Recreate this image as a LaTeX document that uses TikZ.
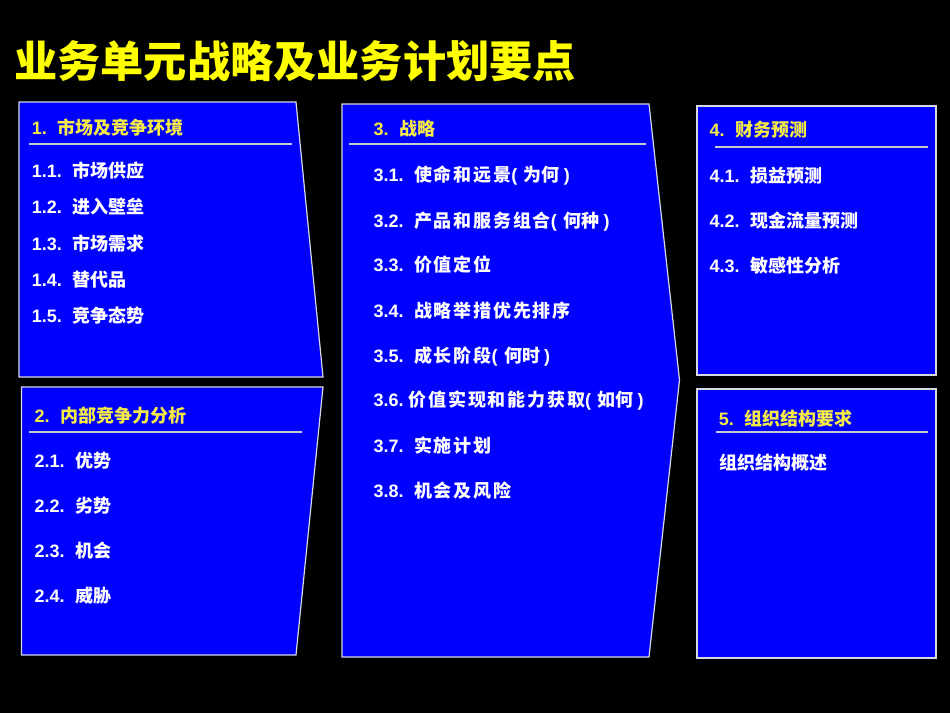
\documentclass[tikz,border=0pt]{standalone}
\usepackage{fontspec}
\setmainfont{Liberation Sans}
\newfontfamily\cjk{Noto Sans CJK SC}
\newfontfamily\cjkw{Noto Sans CJK SC}[LetterSpace=10]
\definecolor{slideblue}{RGB}{0,0,255}
\definecolor{titleyellow}{RGB}{255,255,0}
\definecolor{hdryellow}{RGB}{245,235,70}
\definecolor{edgegray}{RGB}{215,215,230}
\definecolor{rulegray}{RGB}{200,200,215}
\newcommand{\itm}[2]{\makebox[30.4pt][l]{#1}{\cjk #2}}
\newcommand{\itmw}[2]{\makebox[30.4pt][l]{#1}{\cjkw #2}}
\newcommand{\hdr}[2]{\makebox[19.3pt][l]{#1}{\cjk #2}}
\tikzset{
  panel/.style={fill=slideblue, draw=edgegray, line width=0.9pt},
  hrule/.style={draw=rulegray, line width=1.2pt},
  txt/.style={anchor=base west, inner sep=0pt, text=white, font=\fontsize{13.5}{16}\selectfont\bfseries},
  hd/.style={txt, text=hdryellow},
  ttl/.style={anchor=base west, inner sep=0pt, text=titleyellow, font=\cjk\bfseries\fontsize{32.4}{38}\selectfont}
}
\begin{document}
\begin{tikzpicture}[x=0.75pt,y=-0.75pt]
\useasboundingbox (0,0) rectangle (950,713);
\fill[black] (0,0) rectangle (950,713);

% title
\node[ttl] (title) at (14,78) {业务单元战略及业务计划要点};

% panel shapes
\draw[panel] (19,102) -- (296,102) -- (323,377) -- (19,377) -- cycle;
\draw[panel] (21.5,387) -- (323,387) -- (296,655) -- (21.5,655) -- cycle;
\draw[panel] (342,104) -- (649,104) -- (679.5,380) -- (649,657) -- (342,657) -- cycle;
\draw[panel] (697,106) rectangle (936,375);
\draw[panel] (697,389) rectangle (936,658);

% header rules
\draw[hrule] (29,144) -- (292,144);
\draw[hrule] (29,432) -- (302,432);
\draw[hrule] (349,144) -- (646,144);
\draw[hrule] (715,147) -- (928,147);
\draw[hrule] (716,432) -- (928,432);

% panel 1
\node[hd]  (h1)  at (31.5,134.3) {\hdr{1.}{市场及竞争环境}};
\node[txt] (i11) at (31.5,177.7) {\itm{1.1.}{市场供应}};
\node[txt] (i12) at (31.5,214)   {\itm{1.2.}{进入壁垒}};
\node[txt] (i13) at (31.5,250.7) {\itm{1.3.}{市场需求}};
\node[txt] (i14) at (31.5,286.7) {\itm{1.4.}{替代品}};
\node[txt] (i15) at (31.5,322)   {\itm{1.5.}{竞争态势}};

% panel 2
\node[hd]  (h2)  at (34.3,422.3) {\hdr{2.}{内部竞争力分析}};
\node[txt] (i21) at (34.3,467.3) {\itm{2.1.}{优势}};
\node[txt] (i22) at (34.3,512.3) {\itm{2.2.}{劣势}};
\node[txt] (i23) at (34.3,557.7) {\itm{2.3.}{机会}};
\node[txt] (i24) at (34.3,602.7) {\itm{2.4.}{威胁}};

% panel 3
\node[hd]  (h3)  at (373.3,135.7) {\hdr{3.}{战略}};
\node[txt] (i31) at (373.3,181.7) {\itmw{3.1.}{使命和远景}(\hspace{5pt}{\cjk 为何}\hspace{3pt})};
\node[txt] (i32) at (373.3,227.3) {\itmw{3.2.}{产品和服务组合}(\hspace{5pt}{\cjk 何种}\hspace{3pt})};
\node[txt] (i33) at (373.3,271.7) {\itmw{3.3.}{价值定位}};
\node[txt] (i34) at (373.3,317.3) {\itmw{3.4.}{战略举措优先排序}};
\node[txt] (i35) at (373.3,362.7) {\itmw{3.5.}{成长阶段}(\hspace{5pt}{\cjk 何时}\hspace{3pt})};
\node[txt] (i36) at (373.3,406.7) {\makebox[26.3pt][l]{3.6.}{\cjkw 价值实现和能力获取}(\hspace{5pt}{\cjk 如何}\hspace{3pt})};
\node[txt] (i37) at (373.3,452.3) {\itmw{3.7.}{实施计划}};
\node[txt] (i38) at (373.3,497.7) {\itmw{3.8.}{机会及风险}};

% panel 4
\node[hd]  (h4)  at (709.3,136.7) {\hdr{4.}{财务预测}};
\node[txt] (i41) at (709.3,182.3) {\itm{4.1.}{损益预测}};
\node[txt] (i42) at (709.3,227.7) {\itm{4.2.}{现金流量预测}};
\node[txt] (i43) at (709.3,272.3) {\itm{4.3.}{敏感性分析}};

% panel 5
\node[hd]  (h5)  at (718.6,425) {\hdr{5.}{组织结构要求}};
\node[txt] (i51) at (719,469)   {{\cjk 组织结构概述}};
\end{tikzpicture}
\end{document}
